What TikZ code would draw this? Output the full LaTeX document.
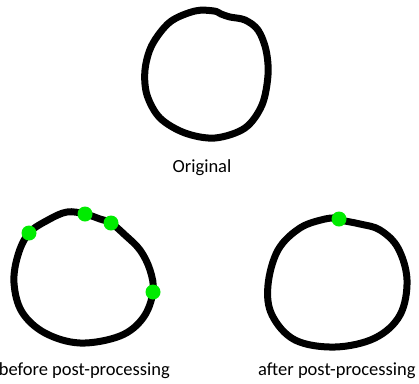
\documentclass[tikz,border=0pt]{standalone}
\usepackage{fontspec}
\setmainfont{Carlito}
\definecolor{dotgreen}{RGB}{0,235,0}
\begin{document}
\begin{tikzpicture}[x=1pt,y=-1pt,
  ring/.style={line width=7pt,line cap=round,line join=round,black},
  gdot/.style={circle,fill=dotgreen,inner sep=0pt,minimum size=15pt},
  lbl/.style={inner sep=0pt,font=\fontsize{18.5}{20}\selectfont}]
\useasboundingbox (0,0) rectangle (419,383);
% Original
\draw[ring] plot[smooth cycle,tension=0.55] coordinates {(214,11) (221,14) (230,17) (245,20) (258,30) (266,50) (268,75) (262,105) (245,128) (215,138) (185,133) (160,118) (147,95) (145,70) (152,45) (170,22) (195,11)};
\node[lbl,anchor=base] (orig) at (202,172) {Original};
% before
\draw[ring] plot[smooth cycle,tension=0.6] coordinates {(29,233) (48,220) (67,212) (85,214) (100,219) (111,223) (125,235) (140,250) (150,270) (153,292) (143,318) (120,336) (80,343) (45,333) (22,312) (14,283) (18,255)};
\node[gdot] (b1) at (29,233) {};
\node[gdot] (b2) at (85,214) {};
\node[gdot] (b3) at (111,223) {};
\node[gdot] (b4) at (153,292) {};
\node[lbl,anchor=base east] (before) at (170,375) {before post-processing};
% after
\draw[ring] plot[smooth,tension=0.6] coordinates {(339,220) (360,224) (380,230) (398,248) (407,280) (400,315) (375,338) (335,347) (295,340) (272,315) (268,285) (278,250) (300,228) (325,219) (339,218)};
\node[gdot] (a1) at (339,219) {};
\node[lbl,anchor=base west] (after) at (258,375) {after post-processing};
\end{tikzpicture}
\end{document}
